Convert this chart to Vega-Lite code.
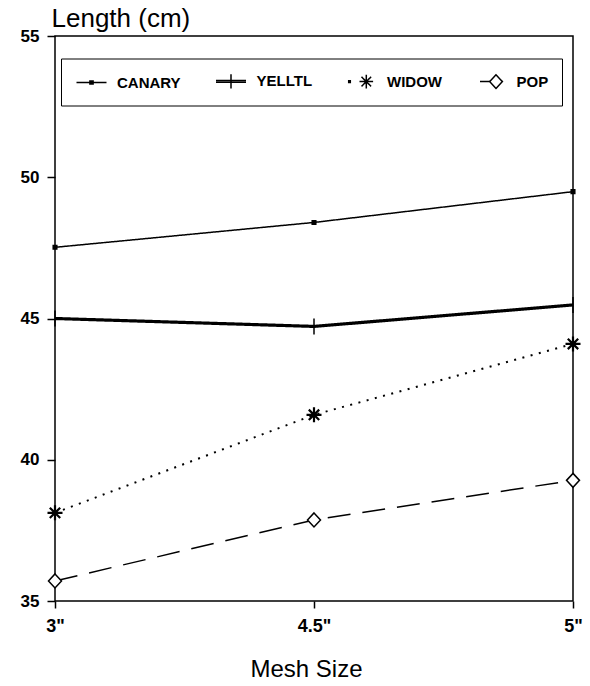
{
  "$schema": "https://vega.github.io/schema/vega-lite/v6.json",
  "width": 518,
  "height": 565,
  "autosize": {"type": "none"},
  "padding": {"left": 55, "top": 36, "right": 17, "bottom": 85},
  "background": "white",
  "config": {
    "view": {"stroke": "black", "strokeWidth": 1.5},
    "font": "Liberation Sans",
    "axis": {"domain": false, "grid": false, "tickColor": "black", "tickWidth": 1.5, "labelColor": "black", "titleColor": "black", "labelFont": "Liberation Sans", "titleFont": "Liberation Sans"}
  },
  "data": {
    "values": [
      {"mesh": "3\"", "series": "CANARY", "length": 47.52},
      {"mesh": "4.5\"", "series": "CANARY", "length": 48.40},
      {"mesh": "5\"", "series": "CANARY", "length": 49.49},
      {"mesh": "3\"", "series": "YELLTL", "length": 45.0},
      {"mesh": "4.5\"", "series": "YELLTL", "length": 44.72},
      {"mesh": "5\"", "series": "YELLTL", "length": 45.48},
      {"mesh": "3\"", "series": "WIDOW", "length": 38.12},
      {"mesh": "4.5\"", "series": "WIDOW", "length": 41.59},
      {"mesh": "5\"", "series": "WIDOW", "length": 44.10},
      {"mesh": "3\"", "series": "POP", "length": 35.71},
      {"mesh": "4.5\"", "series": "POP", "length": 37.87},
      {"mesh": "5\"", "series": "POP", "length": 39.27}
    ]
  },
  "encoding": {
    "x": {
      "field": "mesh", "type": "ordinal", "sort": ["3\"", "4.5\"", "5\""],
      "scale": {"type": "point", "padding": 0},
      "axis": {
        "title": "Mesh Size", "titleFontSize": 24, "titleFontWeight": "normal",
        "titleX": 251, "titleY": 75, "titleBaseline": "alphabetic", "titleAlign": "center",
        "labelFontSize": 18, "labelFontWeight": "bold", "labelAngle": 0,
        "tickSize": 7, "labelPadding": 9
      }
    },
    "y": {
      "field": "length", "type": "quantitative",
      "scale": {"domain": [35, 55], "nice": false, "zero": false},
      "axis": {
        "title": "Length (cm)", "titleAngle": 0, "titleX": -4, "titleY": -10,
        "titleAlign": "left", "titleBaseline": "alphabetic", "titleFontSize": 26, "titleFontWeight": "normal",
        "values": [35, 40, 45, 50, 55], "labelFontSize": 17, "labelFontWeight": "bold",
        "tickSize": 8, "labelPadding": 8
      }
    }
  },
  "layer": [
    {
      "mark": {"type": "line", "stroke": "black", "strokeCap": "butt"},
      "encoding": {
        "detail": {"field": "series", "type": "nominal"},
        "strokeDash": {
          "condition": [
            {"test": "datum.series === 'WIDOW'", "value": [2, 6.5]},
            {"test": "datum.series === 'POP'", "value": [23, 12]}
          ],
          "value": [1, 0]
        },
        "strokeWidth": {
          "condition": [
            {"test": "datum.series === 'YELLTL'", "value": 3.2},
            {"test": "datum.series === 'WIDOW'", "value": 2}
          ],
          "value": 1.5
        },
        "opacity": {
          "field": "series", "type": "nominal",
          "scale": {"type": "point", "domain": ["CANARY", "YELLTL", "WIDOW", "POP"], "range": [1, 1]},
          "legend": {
            "orient": "none", "legendX": 6, "legendY": 22.5, "direction": "horizontal",
            "title": null, "symbolSize": 256, "symbolStrokeWidth": 1.5, "symbolOffset": 8,
            "symbolFillColor": "transparent", "symbolStrokeColor": "black", "symbolDash": [1, 0],
            "symbolType": {"expr": "datum.value === 'CANARY' ? 'M-1.875,0H1.875M-0.2,-0.2H0.2V0.2H-0.2Z' : datum.value === 'YELLTL' ? 'M-1.875,-0.12H1.875M-1.875,0.12H1.875M0,-0.9V0.9' : datum.value === 'WIDOW' ? 'M-1.6,-0.12H-1.4V0.12H-1.6ZM0.6,-0.85V0.85M-0.25,0H1.45M0,-0.6L1.2,0.6M0,0.6L1.2,-0.6' : 'M-1.375,0H-0.175M0.625,-0.85L1.425,0L0.625,0.85L-0.175,0Z'"},
            "labelOffset": 16.5, "columnPadding": 31.5, "padding": 13.5,
            "strokeColor": "black", "fillColor": "white",
            "labelFont": "Liberation Sans", "labelFontWeight": "bold", "labelFontSize": 15, "labelColor": "black"
          }
        }
      }
    },
    {
      "mark": {"type": "point", "stroke": "black", "opacity": 1, "size": 64, "filled": false},
      "encoding": {
        "fill": {
          "condition": {"test": "datum.series === 'CANARY'", "value": "black"},
          "value": "white"
        },
        "strokeWidth": {
          "condition": {"test": "datum.series === 'WIDOW'", "value": 2.2},
          "value": 1.5
        },
        "shape": {
          "condition": [
            {"test": "datum.series === 'CANARY'", "value": "M-0.45,-0.45H0.45V0.45H-0.45Z"},
            {"test": "datum.series === 'YELLTL'", "value": "M0,-2V2"},
            {"test": "datum.series === 'WIDOW'", "value": "M0,-1.875V1.875M-1.875,0H1.875M-1.3,-1.3L1.3,1.3M-1.3,1.3L1.3,-1.3"}
          ],
          "value": "M0,-1.75L1.625,0L0,1.75L-1.625,0Z"
        }
      }
    }
  ]
}
